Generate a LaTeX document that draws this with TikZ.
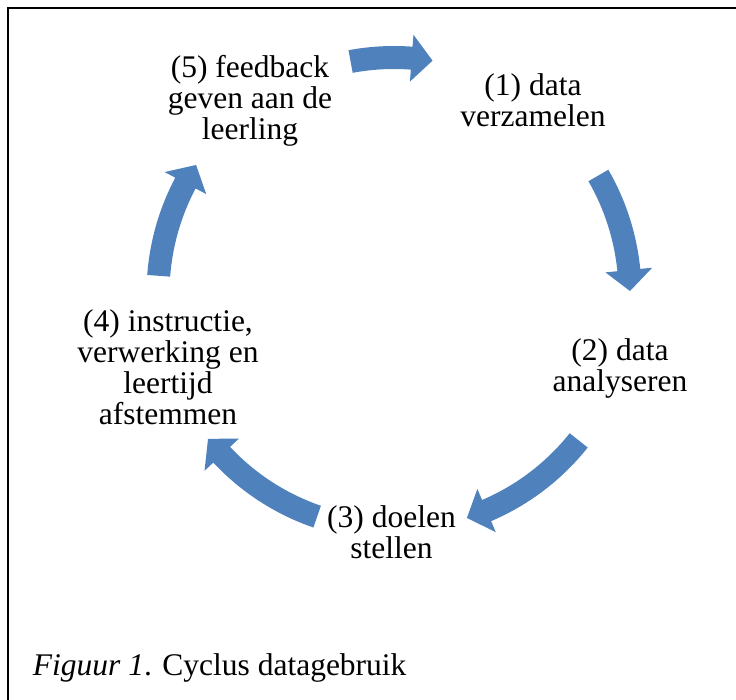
\documentclass[tikz,border=0pt]{standalone}
\usepackage{fontspec}
\setmainfont{Liberation Serif}
\definecolor{arrowblue}{RGB}{79,129,189}
\newcommand\cycarrow[2]{%
  \pgfmathsetmacro\hd{#2+5.1}%
  \fill[arrowfill] (#1:247.5pt) arc[start angle=#1, end angle=\hd, radius=247.5pt]
    -- (\hd:259.5pt) -- (#2:236pt) -- (\hd:212.5pt) -- (\hd:224.5pt)
    arc[start angle=\hd, end angle=#1, radius=224.5pt] -- cycle;}
\begin{document}
\begin{tikzpicture}[x=1pt,y=1pt,
  lbl/.style={align=center, font=\fontsize{31.5}{31}\selectfont, inner sep=0pt},
  captionstyle/.style={anchor=base west, font=\fontsize{31.5}{31}\selectfont, inner sep=0pt},
  arrowfill/.style={fill=arrowblue},
  frameline/.style={line width=2pt, black}]
\useasboundingbox (0,0) rectangle (736,700);
% frame (only top and left edges visible)
\coordinate (fTR) at (736,692.3);
\coordinate (fTL) at (7.7,692.3);
\coordinate (fBL) at (7.7,0);
\draw[frameline] (fTR) -- (fTL) -- (fBL);
% cycle centre
\coordinate (C) at (394,406.5);
% labels
\node[lbl] (n1) at (533,600) {(1) data\\verzamelen};
\node[lbl] (n2) at (620,332) {(2) data\\analyseren};
\node[lbl] (n3) at (391.5,168) {(3) doelen\\stellen};
\node[lbl] (n4) at (168,333) {(4) instructie,\\verwerking en\\leertijd\\afstemmen};
\node[lbl] (n5) at (250,599) {(5) feedback\\geven aan de\\leerling};
% curved block arrows
\begin{scope}[shift={(C)}]
  \cycarrow{100.6}{80.6}
  \cycarrow{30}{0.6}
  \cycarrow{-38.5}{-72}
  \cycarrow{-109}{-142}
  \cycarrow{175.7}{147}
\end{scope}
% caption
\node[captionstyle] (cap) at (32.7,24) {\textit{Figuur 1}. Cyclus datagebruik};
\end{tikzpicture}
\end{document}
